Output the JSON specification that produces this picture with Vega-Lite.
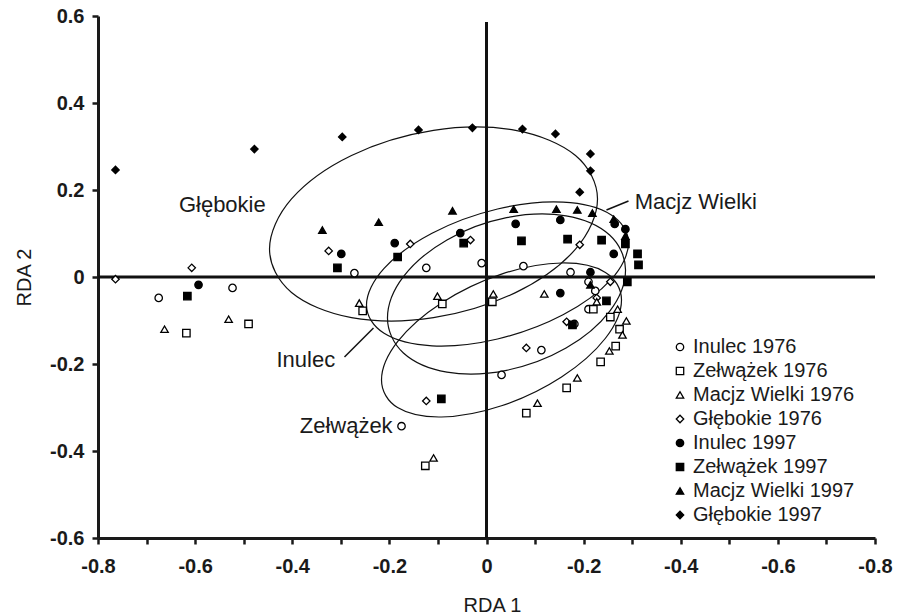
{
  "$schema": "https://vega.github.io/schema/vega-lite/v6.json",
  "width": 777,
  "height": 522,
  "autosize": "none",
  "padding": {"left": 98, "top": 16, "right": 30, "bottom": 77},
  "background": "white",
  "config": {
    "font": "Liberation Sans",
    "view": {"stroke": null},
    "axis": {
      "grid": false,
      "domainColor": "#1a1a1a",
      "domainWidth": 3,
      "tickColor": "#1a1a1a",
      "tickWidth": 2.5,
      "tickSize": 6,
      "labelFont": "Liberation Sans",
      "labelFontWeight": "bold",
      "labelFontSize": 20,
      "labelColor": "#1a1a1a",
      "labelFlush": false,
      "labelOverlap": false,
      "titleFont": "Liberation Sans",
      "titleFontWeight": "normal",
      "titleFontSize": 20,
      "titleColor": "#1a1a1a"
    },
    "legend": {
      "labelFont": "Liberation Sans",
      "labelFontSize": 20,
      "labelColor": "#1a1a1a",
      "labelLimit": 400,
      "symbolStrokeWidth": 1.3,
      "symbolStrokeColor": "#000"
    }
  },
  "datasets": {
    "points": [
      {"series": "Głębokie 1997", "x": -0.764, "y": 0.246},
      {"series": "Głębokie 1997", "x": -0.478, "y": 0.294},
      {"series": "Głębokie 1997", "x": -0.297, "y": 0.322},
      {"series": "Głębokie 1997", "x": -0.140, "y": 0.338},
      {"series": "Głębokie 1997", "x": -0.029, "y": 0.343},
      {"series": "Głębokie 1997", "x": 0.074, "y": 0.340},
      {"series": "Głębokie 1997", "x": 0.142, "y": 0.329},
      {"series": "Głębokie 1997", "x": 0.214, "y": 0.283},
      {"series": "Głębokie 1997", "x": 0.214, "y": 0.244},
      {"series": "Głębokie 1997", "x": 0.192, "y": 0.195},
      {"series": "Głębokie 1976", "x": -0.764, "y": -0.005},
      {"series": "Głębokie 1976", "x": -0.607, "y": 0.021},
      {"series": "Głębokie 1976", "x": -0.325, "y": 0.060},
      {"series": "Głębokie 1976", "x": -0.157, "y": 0.076},
      {"series": "Głębokie 1976", "x": -0.033, "y": 0.085},
      {"series": "Głębokie 1976", "x": 0.192, "y": 0.074},
      {"series": "Głębokie 1976", "x": 0.255, "y": -0.011},
      {"series": "Głębokie 1976", "x": 0.227, "y": -0.048},
      {"series": "Głębokie 1976", "x": 0.165, "y": -0.103},
      {"series": "Głębokie 1976", "x": 0.082, "y": -0.163},
      {"series": "Głębokie 1976", "x": -0.124, "y": -0.285},
      {"series": "Inulec 1976", "x": -0.675, "y": -0.048},
      {"series": "Inulec 1976", "x": -0.523, "y": -0.025},
      {"series": "Inulec 1976", "x": -0.272, "y": 0.009},
      {"series": "Inulec 1976", "x": -0.124, "y": 0.021},
      {"series": "Inulec 1976", "x": -0.010, "y": 0.032},
      {"series": "Inulec 1976", "x": 0.076, "y": 0.025},
      {"series": "Inulec 1976", "x": 0.173, "y": 0.011},
      {"series": "Inulec 1976", "x": 0.210, "y": -0.011},
      {"series": "Inulec 1976", "x": 0.224, "y": -0.032},
      {"series": "Inulec 1976", "x": 0.210, "y": -0.074},
      {"series": "Inulec 1976", "x": 0.181, "y": -0.108},
      {"series": "Inulec 1976", "x": 0.113, "y": -0.168},
      {"series": "Inulec 1976", "x": 0.031, "y": -0.225},
      {"series": "Inulec 1976", "x": -0.175, "y": -0.343},
      {"series": "Inulec 1997", "x": -0.593, "y": -0.018},
      {"series": "Inulec 1997", "x": -0.299, "y": 0.053},
      {"series": "Inulec 1997", "x": -0.189, "y": 0.078},
      {"series": "Inulec 1997", "x": -0.054, "y": 0.101},
      {"series": "Inulec 1997", "x": 0.060, "y": 0.122},
      {"series": "Inulec 1997", "x": 0.152, "y": 0.131},
      {"series": "Inulec 1997", "x": 0.264, "y": 0.122},
      {"series": "Inulec 1997", "x": 0.286, "y": 0.110},
      {"series": "Inulec 1997", "x": 0.262, "y": 0.053},
      {"series": "Inulec 1997", "x": 0.214, "y": 0.011},
      {"series": "Inulec 1997", "x": 0.152, "y": -0.037},
      {"series": "Zełwążek 1976", "x": -0.618, "y": -0.129},
      {"series": "Zełwążek 1976", "x": -0.490, "y": -0.108},
      {"series": "Zełwążek 1976", "x": -0.255, "y": -0.078},
      {"series": "Zełwążek 1976", "x": -0.091, "y": -0.062},
      {"series": "Zełwążek 1976", "x": 0.012, "y": -0.057},
      {"series": "Zełwążek 1976", "x": -0.126, "y": -0.434},
      {"series": "Zełwążek 1976", "x": 0.082, "y": -0.313},
      {"series": "Zełwążek 1976", "x": 0.165, "y": -0.255},
      {"series": "Zełwążek 1976", "x": 0.235, "y": -0.195},
      {"series": "Zełwążek 1976", "x": 0.266, "y": -0.159},
      {"series": "Zełwążek 1976", "x": 0.274, "y": -0.120},
      {"series": "Zełwążek 1976", "x": 0.255, "y": -0.092},
      {"series": "Zełwążek 1976", "x": 0.220, "y": -0.074},
      {"series": "Zełwążek 1997", "x": -0.616, "y": -0.044},
      {"series": "Zełwążek 1997", "x": -0.307, "y": 0.021},
      {"series": "Zełwążek 1997", "x": -0.183, "y": 0.046},
      {"series": "Zełwążek 1997", "x": -0.047, "y": 0.078},
      {"series": "Zełwążek 1997", "x": 0.072, "y": 0.083},
      {"series": "Zełwążek 1997", "x": 0.167, "y": 0.087},
      {"series": "Zełwążek 1997", "x": 0.237, "y": 0.085},
      {"series": "Zełwążek 1997", "x": 0.286, "y": 0.076},
      {"series": "Zełwążek 1997", "x": 0.311, "y": 0.053},
      {"series": "Zełwążek 1997", "x": 0.313, "y": 0.028},
      {"series": "Zełwążek 1997", "x": 0.290, "y": -0.011},
      {"series": "Zełwążek 1997", "x": 0.247, "y": -0.055},
      {"series": "Zełwążek 1997", "x": 0.177, "y": -0.110},
      {"series": "Zełwążek 1997", "x": -0.093, "y": -0.280},
      {"series": "Macjz Wielki 1976", "x": -0.663, "y": -0.120},
      {"series": "Macjz Wielki 1976", "x": -0.531, "y": -0.097},
      {"series": "Macjz Wielki 1976", "x": -0.262, "y": -0.060},
      {"series": "Macjz Wielki 1976", "x": -0.101, "y": -0.044},
      {"series": "Macjz Wielki 1976", "x": -0.109, "y": -0.416},
      {"series": "Macjz Wielki 1976", "x": 0.014, "y": -0.039},
      {"series": "Macjz Wielki 1976", "x": 0.119, "y": -0.039},
      {"series": "Macjz Wielki 1976", "x": 0.105, "y": -0.290},
      {"series": "Macjz Wielki 1976", "x": 0.187, "y": -0.232},
      {"series": "Macjz Wielki 1976", "x": 0.253, "y": -0.170},
      {"series": "Macjz Wielki 1976", "x": 0.280, "y": -0.133},
      {"series": "Macjz Wielki 1976", "x": 0.288, "y": -0.101},
      {"series": "Macjz Wielki 1976", "x": 0.270, "y": -0.074},
      {"series": "Macjz Wielki 1976", "x": 0.227, "y": -0.057},
      {"series": "Macjz Wielki 1997", "x": -0.338, "y": 0.108},
      {"series": "Macjz Wielki 1997", "x": -0.222, "y": 0.126},
      {"series": "Macjz Wielki 1997", "x": -0.070, "y": 0.152},
      {"series": "Macjz Wielki 1997", "x": 0.056, "y": 0.156},
      {"series": "Macjz Wielki 1997", "x": 0.144, "y": 0.156},
      {"series": "Macjz Wielki 1997", "x": 0.187, "y": 0.154},
      {"series": "Macjz Wielki 1997", "x": 0.218, "y": 0.147},
      {"series": "Macjz Wielki 1997", "x": 0.262, "y": 0.133},
      {"series": "Macjz Wielki 1997", "x": 0.286, "y": 0.094},
      {"series": "Macjz Wielki 1997", "x": 0.214, "y": -0.018}
    ],
    "ellipses": [
      {"e": "G", "i": 0, "x": 0.2286, "y": 0.1793},
      {"e": "G", "i": 1, "x": 0.1833, "y": 0.0639},
      {"e": "G", "i": 2, "x": 0.0598, "y": -0.0359},
      {"e": "G", "i": 3, "x": -0.1091, "y": -0.0936},
      {"e": "G", "i": 4, "x": -0.2780, "y": -0.0935},
      {"e": "G", "i": 5, "x": -0.4015, "y": -0.0357},
      {"e": "G", "i": 6, "x": -0.4468, "y": 0.0643},
      {"e": "G", "i": 7, "x": -0.4015, "y": 0.1797},
      {"e": "G", "i": 8, "x": -0.2780, "y": 0.2795},
      {"e": "G", "i": 9, "x": -0.1091, "y": 0.3372},
      {"e": "G", "i": 10, "x": 0.0598, "y": 0.3371},
      {"e": "G", "i": 11, "x": 0.1833, "y": 0.2793},
      {"e": "X", "i": 0, "x": 0.2925, "y": 0.0782},
      {"e": "X", "i": 1, "x": 0.2563, "y": -0.0061},
      {"e": "X", "i": 2, "x": 0.1576, "y": -0.0868},
      {"e": "X", "i": 3, "x": 0.0227, "y": -0.1425},
      {"e": "X", "i": 4, "x": -0.1122, "y": -0.1582},
      {"e": "X", "i": 5, "x": -0.2109, "y": -0.1295},
      {"e": "X", "i": 6, "x": -0.2471, "y": -0.0644},
      {"e": "X", "i": 7, "x": -0.2109, "y": 0.0199},
      {"e": "X", "i": 8, "x": -0.1122, "y": 0.1006},
      {"e": "X", "i": 9, "x": 0.0227, "y": 0.1563},
      {"e": "X", "i": 10, "x": 0.1576, "y": 0.1720},
      {"e": "X", "i": 11, "x": 0.2563, "y": 0.1433},
      {"e": "Y", "i": 0, "x": 0.2863, "y": 0.0161},
      {"e": "Y", "i": 1, "x": 0.2535, "y": -0.0790},
      {"e": "Y", "i": 2, "x": 0.1638, "y": -0.1634},
      {"e": "Y", "i": 3, "x": 0.0412, "y": -0.2145},
      {"e": "Y", "i": 4, "x": -0.0814, "y": -0.2186},
      {"e": "Y", "i": 5, "x": -0.1711, "y": -0.1746},
      {"e": "Y", "i": 6, "x": -0.2039, "y": -0.0943},
      {"e": "Y", "i": 7, "x": -0.1711, "y": 0.0008},
      {"e": "Y", "i": 8, "x": -0.0814, "y": 0.0852},
      {"e": "Y", "i": 9, "x": 0.0412, "y": 0.1363},
      {"e": "Y", "i": 10, "x": 0.1638, "y": 0.1404},
      {"e": "Y", "i": 11, "x": 0.2535, "y": 0.0964},
      {"e": "Z", "i": 0, "x": 0.2780, "y": -0.0528},
      {"e": "Z", "i": 1, "x": 0.2449, "y": -0.1408},
      {"e": "Z", "i": 2, "x": 0.1545, "y": -0.2298},
      {"e": "Z", "i": 3, "x": 0.0309, "y": -0.2961},
      {"e": "Z", "i": 4, "x": -0.0927, "y": -0.3218},
      {"e": "Z", "i": 5, "x": -0.1831, "y": -0.3002},
      {"e": "Z", "i": 6, "x": -0.2162, "y": -0.2368},
      {"e": "Z", "i": 7, "x": -0.1831, "y": -0.1488},
      {"e": "Z", "i": 8, "x": -0.0927, "y": -0.0598},
      {"e": "Z", "i": 9, "x": 0.0309, "y": 0.0065},
      {"e": "Z", "i": 10, "x": 0.1545, "y": 0.0322},
      {"e": "Z", "i": 11, "x": 0.2449, "y": 0.0106}
    ],
    "zerolines": [
      {"x": 0, "y": 0.586, "x2": 0, "y2": -0.6},
      {"x": -0.8, "y": 0, "x2": 0.8, "y2": 0}
    ],
    "leaders": [
      {"x": 0.2471, "y": 0.154, "x2": 0.2924, "y2": 0.1747},
      {"x": -0.2924, "y": -0.1839, "x2": -0.2327, "y2": -0.1172}
    ],
    "labels": [
      {"label": "Głębokie", "x": -0.544, "y": 0.166},
      {"label": "Macjz Wielki", "x": 0.431, "y": 0.172},
      {"label": "Inulec", "x": -0.372, "y": -0.191},
      {"label": "Zełwążek", "x": -0.289, "y": -0.343}
    ]
  },
  "layer": [
    {
      "data": {"name": "zerolines"},
      "mark": {"type": "rule", "color": "#111", "strokeWidth": 3},
      "encoding": {
        "x": {"field": "x", "type": "quantitative", "scale": {"domain": [-0.8, 0.8], "nice": false, "zero": false},
          "axis": {
            "values": [-0.8, -0.7, -0.6, -0.5, -0.4, -0.3, -0.2, -0.1, 0, 0.1, 0.2, 0.3, 0.4, 0.5, 0.6, 0.7, 0.8],
            "labelExpr": "abs(round(datum.value*10)) % 2 == 1 ? '' : (datum.value == 0 ? '0' : '-' + format(abs(datum.value), '.1f'))",
            "title": "RDA 1",
            "titleX": 394,
            "titleY": 73,
            "titleBaseline": "alphabetic",
            "titleAlign": "center",
            "labelPadding": 12
          }},
        "y": {"field": "y", "type": "quantitative", "scale": {"domain": [-0.6, 0.6], "nice": false, "zero": false},
          "axis": {
            "values": [-0.6, -0.4, -0.2, 0, 0.2, 0.4, 0.6],
            "labelExpr": "datum.value == 0 ? '0' : (datum.value < 0 ? '-' : '') + format(abs(datum.value), '.1f')",
            "title": "RDA 2",
            "titleX": -68,
            "titleY": 261,
            "titleAngle": -90,
            "titleBaseline": "alphabetic",
            "titleAlign": "center",
            "labelPadding": 8
          }},
        "x2": {"field": "x2"},
        "y2": {"field": "y2"}
      }
    },
    {
      "data": {"name": "ellipses"},
      "mark": {"type": "line", "interpolate": "cardinal-closed", "color": "#111", "strokeWidth": 1.2},
      "encoding": {
        "x": {"field": "x", "type": "quantitative"},
        "y": {"field": "y", "type": "quantitative"},
        "detail": {"field": "e"},
        "order": {"field": "i", "type": "quantitative"}
      }
    },
    {
      "data": {"name": "leaders"},
      "mark": {"type": "rule", "color": "#111", "strokeWidth": 1.5},
      "encoding": {
        "x": {"field": "x", "type": "quantitative"},
        "y": {"field": "y", "type": "quantitative"},
        "x2": {"field": "x2"},
        "y2": {"field": "y2"}
      }
    },
    {
      "data": {"name": "points"},
      "mark": {"type": "point", "size": 55, "strokeWidth": 1.3, "opacity": 1, "filled": false},
      "encoding": {
        "x": {"field": "x", "type": "quantitative"},
        "y": {"field": "y", "type": "quantitative"},
        "shape": {"field": "series", "type": "nominal",
          "scale": {
            "domain": ["Inulec 1976", "Zełwążek 1976", "Macjz Wielki 1976", "Głębokie 1976", "Inulec 1997", "Zełwążek 1997", "Macjz Wielki 1997", "Głębokie 1997"],
            "range": ["circle", "square", "triangle-up", "diamond", "circle", "square", "triangle-up", "diamond"]
          },
          "legend": {"title": null, "orient": "none", "legendX": 572, "legendY": 321, "labelOffset": 3, "rowPadding": 4, "symbolSize": 55, "padding": 0, "labelLimit": 400, "symbolStrokeWidth": 1.3}
        },
        "fill": {"field": "series", "type": "nominal",
          "scale": {
            "domain": ["Inulec 1976", "Zełwążek 1976", "Macjz Wielki 1976", "Głębokie 1976", "Inulec 1997", "Zełwążek 1997", "Macjz Wielki 1997", "Głębokie 1997"],
            "range": ["#fff", "#fff", "#fff", "#fff", "#000", "#000", "#000", "#000"]
          },
          "legend": {"title": null, "orient": "none", "legendX": 572, "legendY": 321, "labelOffset": 3, "rowPadding": 4, "symbolSize": 55, "padding": 0, "labelLimit": 400, "symbolStrokeWidth": 1.3}
        },
        "stroke": {"field": "series", "type": "nominal",
          "scale": {
            "domain": ["Inulec 1976", "Zełwążek 1976", "Macjz Wielki 1976", "Głębokie 1976", "Inulec 1997", "Zełwążek 1997", "Macjz Wielki 1997", "Głębokie 1997"],
            "range": ["#000", "#000", "#000", "#000", "#000", "#000", "#000", "#000"]
          },
          "legend": {"title": null, "orient": "none", "legendX": 572, "legendY": 321, "labelOffset": 3, "rowPadding": 4, "symbolSize": 55, "padding": 0, "labelLimit": 400, "symbolStrokeWidth": 1.3}
        }
      }
    },
    {
      "data": {"name": "labels"},
      "mark": {"type": "text", "fontSize": 22, "font": "Liberation Sans", "color": "#1a1a1a", "align": "center", "baseline": "middle"},
      "encoding": {
        "x": {"field": "x", "type": "quantitative"},
        "y": {"field": "y", "type": "quantitative"},
        "text": {"field": "label"}
      }
    }
  ]
}
